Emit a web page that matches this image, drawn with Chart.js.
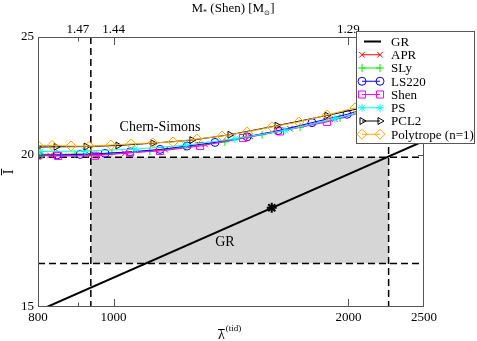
<!DOCTYPE html>
<html>
<head>
<meta charset="utf-8">
<script src="https://cdn.jsdelivr.net/npm/chart.js@4.4.1/dist/chart.umd.min.js"></script>
<style>
  html, body { margin: 0; padding: 0; background: #fff; }
  canvas { display: block; }
</style>
</head>
<body>
<canvas id="chart" width="477" height="341"></canvas>
<script>
const serif = 'Liberation Serif, serif';

// axis ticks
const xTickValues = [800, 1000, 2000, 2500];
const xTickLabels = ['800', '1000', '2000', '2500'];
const xMajorMarks = [1000, 2000];
const xMinorMarks = [900];
const yTickValues = [15, 20, 25];
const yTickLabels = ['15', '20', '25'];
const topTickValues = [900, 1000, 2000];
const topTickLabels = ['1.47', '1.44', '1.29'];

// GR relation and measured point
const grLam = [800, 2500];
const grI = [14.89, 20.54];
const starLam = [1595];
const starI = [18.1];

// allowed region
const bandLam = [935, 2252];
const bandI = [16.29, 19.91];

// Chern-Simons curves per EOS
const aprLam = [800, 829, 933, 1034, 1164, 1310, 1496, 1683, 1922, 2200];
const aprI = [19.97, 19.98, 20.0, 20.06, 20.2, 20.4, 20.72, 21.02, 21.4, 21.9];
const slyLam = [800, 810, 892, 995, 1113, 1235, 1389, 1550, 1734, 1951, 2200];
const slyI = [20.02, 20.02, 20.03, 20.07, 20.15, 20.3, 20.5, 20.78, 21.08, 21.45, 21.9];
const ls220Lam = [800, 846, 906, 975, 1050, 1147, 1242, 1349, 1483, 1625, 1796, 1992, 2250];
const ls220I = [20.0, 20.0, 20.02, 20.06, 20.12, 20.21, 20.34, 20.48, 20.7, 20.94, 21.26, 21.6, 22.1];
const shenLam = [800, 849, 947, 1050, 1147, 1291, 1465, 1634, 1877, 2200];
const shenI = [19.98, 19.96, 19.97, 20.09, 20.15, 20.34, 20.65, 20.91, 21.29, 21.9];
const psLam = [800, 805, 919, 1065, 1235, 1431, 1659, 1922, 2200];
const psI = [20.12, 20.13, 20.15, 20.22, 20.37, 20.62, 20.95, 21.42, 21.9];
const pcl2Lam = [800, 844, 922, 1013, 1123, 1260, 1410, 1620, 1877, 2182];
const pcl2I = [20.3, 20.31, 20.32, 20.36, 20.45, 20.57, 20.78, 21.14, 21.55, 22.0];
const polyLam = [800, 834, 882, 930, 992, 1053, 1123, 1192, 1279, 1377, 1483, 1596, 1728, 1877, 2039, 2250];
const polyI = [20.36, 20.36, 20.34, 20.33, 20.38, 20.42, 20.46, 20.5, 20.61, 20.73, 20.89, 21.09, 21.29, 21.57, 21.86, 22.3];

const zip = (xs, ys) => xs.map((v, i) => ({ x: v, y: ys[i] }));

const eos = [
  { label: 'APR', lam: aprLam, I: aprI, color: '#ff0000', style: 'crossRot', r: 4, rot: 0 },
  { label: 'SLy', lam: slyLam, I: slyI, color: '#00ee00', style: 'cross', r: 4, rot: 0 },
  { label: 'LS220', lam: ls220Lam, I: ls220I, color: '#0000ff', style: 'circle', r: 4, rot: 0 },
  { label: 'Shen', lam: shenLam, I: shenI, color: '#ff00ff', style: 'rect', r: 5, rot: 0 },
  { label: 'PS', lam: psLam, I: psI, color: '#00ffff', style: 'star', r: 4, rot: 0 },
  { label: 'PCL2', lam: pcl2Lam, I: pcl2I, color: '#000000', style: 'triangle', r: 4, rot: 90 },
  { label: 'Polytrope (n=1)', lam: polyLam, I: polyI, color: '#ffa500', style: 'rectRot', r: 5, rot: 0 }
];

function drawMarker(ctx, style, x, y, r, rot, color) {
  const h = r * Math.SQRT1_2;
  ctx.save();
  ctx.strokeStyle = color;
  ctx.lineWidth = 1;
  ctx.beginPath();
  if (style === 'circle') {
    ctx.arc(x, y, r, 0, Math.PI * 2);
  } else if (style === 'rect') {
    ctx.rect(x - h, y - h, 2 * h, 2 * h);
  } else if (style === 'rectRot') {
    ctx.moveTo(x, y - r); ctx.lineTo(x + r, y); ctx.lineTo(x, y + r); ctx.lineTo(x - r, y); ctx.closePath();
  } else if (style === 'cross' || style === 'star') {
    ctx.moveTo(x - r, y); ctx.lineTo(x + r, y); ctx.moveTo(x, y - r); ctx.lineTo(x, y + r);
  }
  if (style === 'crossRot' || style === 'star') {
    ctx.moveTo(x - h, y - h); ctx.lineTo(x + h, y + h); ctx.moveTo(x + h, y - h); ctx.lineTo(x - h, y + h);
  }
  if (style === 'triangle') {
    let a = rot * Math.PI / 180;
    ctx.moveTo(x + Math.sin(a) * r, y - Math.cos(a) * r);
    a += 2 * Math.PI / 3;
    ctx.lineTo(x + Math.sin(a) * r, y - Math.cos(a) * r);
    a += 2 * Math.PI / 3;
    ctx.lineTo(x + Math.sin(a) * r, y - Math.cos(a) * r);
    ctx.closePath();
  }
  ctx.stroke();
  ctx.restore();
}

const overlay = {
  id: 'overlay',
  beforeDatasetsDraw(chart) {
    const { ctx, chartArea: a, scales: { x, y } } = chart;
    const x0 = x.getPixelForValue(bandLam[0]), x1 = x.getPixelForValue(bandLam[1]);
    const y0 = y.getPixelForValue(bandI[1]), y1 = y.getPixelForValue(bandI[0]);
    ctx.save();
    ctx.fillStyle = '#d6d6d6';
    ctx.fillRect(x0, y0, x1 - x0, y1 - y0);
    ctx.strokeStyle = '#000';
    ctx.lineWidth = 1.5;
    ctx.setLineDash([7, 4]);
    ctx.beginPath();
    [x0, x1].forEach(px => { ctx.moveTo(px, a.top); ctx.lineTo(px, a.bottom); });
    [y0, y1].forEach(py => { ctx.moveTo(a.left, py); ctx.lineTo(a.right, py); });
    ctx.stroke();
    ctx.restore();
  },
  afterDraw(chart) {
    const { ctx, chartArea: a, scales: { x, y } } = chart;
    ctx.save();
    // frame and inward ticks
    ctx.strokeStyle = '#555';
    ctx.lineWidth = 1;
    ctx.strokeRect(a.left + 0.5, a.top + 0.5, a.right - a.left - 1, a.bottom - a.top - 1);
    ctx.beginPath();
    xMajorMarks.concat(xMinorMarks).forEach(v => {
      const px = Math.round(x.getPixelForValue(v)) + 0.5;
      const len = xMajorMarks.includes(v) ? 8 : 4.5;
      ctx.moveTo(px, a.bottom); ctx.lineTo(px, a.bottom - len);
      ctx.moveTo(px, a.top); ctx.lineTo(px, a.top + len);
    });
    const py20 = Math.round(y.getPixelForValue(20)) + 0.5;
    ctx.moveTo(a.left, py20); ctx.lineTo(a.left + 6, py20);
    ctx.moveTo(a.right, py20); ctx.lineTo(a.right - 6, py20);
    ctx.stroke();

    // text in the plot
    ctx.fillStyle = '#000';
    ctx.font = '14px ' + serif;
    ctx.textAlign = 'center';
    ctx.textBaseline = 'middle';
    ctx.fillText('Chern-Simons', x.getPixelForValue(1147), y.getPixelForValue(21.09));
    ctx.fillText('GR', x.getPixelForValue(1389), y.getPixelForValue(16.96));

    // top title: M_* (Shen) [M_sun]
    ctx.textAlign = 'left';
    ctx.textBaseline = 'alphabetic';
    const parts = [['M', 13, 0], ['*', 8, 3], [' (Shen) [M', 13, 0], ['\u2299', 7, 3], [']', 13, 0]];
    let w = 0;
    parts.forEach(p => { ctx.font = p[1] + 'px ' + serif; w += ctx.measureText(p[0]).width; });
    let cx = 233 - w / 2;
    parts.forEach(p => {
      ctx.font = p[1] + 'px ' + serif;
      ctx.fillText(p[0], cx, 12 + p[2]);
      cx += ctx.measureText(p[0]).width;
    });

    // x title: lambda bar (tid)
    ctx.font = '14px ' + serif;
    const lw = ctx.measureText('\u03bb').width;
    ctx.fillText('\u03bb', 218, 339);
    ctx.beginPath();
    ctx.strokeStyle = '#000';
    ctx.moveTo(218, 329.5); ctx.lineTo(218 + lw, 329.5);
    ctx.stroke();
    ctx.font = '9px ' + serif;
    ctx.fillText('(tid)', 219 + lw, 331);

    // y title: I bar
    ctx.save();
    ctx.translate(9, 172);
    ctx.rotate(-Math.PI / 2);
    ctx.font = '14px ' + serif;
    ctx.textAlign = 'center';
    ctx.fillText('I', 0, 4);
    const iw = ctx.measureText('I').width;
    ctx.beginPath();
    ctx.moveTo(-iw / 2 - 1, -7.5); ctx.lineTo(iw / 2 + 1, -7.5);
    ctx.stroke();
    ctx.restore();

    // legend box
    const lx = 356, ly = 31, lwid = 119, lh = 113;
    ctx.fillStyle = '#fff';
    ctx.fillRect(lx, ly, lwid, lh);
    ctx.strokeStyle = '#555';
    ctx.strokeRect(lx + 0.5, ly + 0.5, lwid - 1, lh - 1);
    ctx.font = '13px ' + serif;
    ctx.textAlign = 'left';
    ctx.textBaseline = 'middle';
    const rows = [{ label: 'GR', color: '#000', style: null }].concat(eos);
    rows.forEach((e, i) => {
      const ry = 41.5 + i * 13.25;
      ctx.beginPath();
      if (e.style === null) {
        ctx.strokeStyle = '#000';
        ctx.lineWidth = 2;
        ctx.moveTo(364, ry); ctx.lineTo(381, ry);
      } else {
        ctx.strokeStyle = e.color;
        ctx.lineWidth = 1;
        ctx.moveTo(362, ry); ctx.lineTo(380, ry);
      }
      ctx.stroke();
      if (e.style) {
        drawMarker(ctx, e.style, 362, ry, e.r, e.rot, e.color);
        drawMarker(ctx, e.style, 380, ry, e.r, e.rot, e.color);
      }
      ctx.fillStyle = '#000';
      ctx.fillText(e.label, 391, ry + 1);
    });
    ctx.restore();
  }
};

const datasets = [
  { label: 'GR', data: zip(grLam, grI), showLine: true, borderColor: '#000', borderWidth: 2, pointRadius: 0 },
  { label: 'GR point', data: zip(starLam, starI), showLine: false, pointStyle: 'star', pointRadius: 5,
    pointBorderWidth: 2, pointBorderColor: '#000', borderColor: '#000' }
].concat(eos.slice().reverse().map(e => ({
  label: e.label,
  data: zip(e.lam, e.I),
  showLine: true,
  borderColor: e.color,
  borderWidth: 1,
  pointStyle: e.style,
  pointRadius: e.r,
  pointRotation: e.rot,
  pointBorderColor: e.color,
  pointBorderWidth: 1,
  pointBackgroundColor: 'rgba(0,0,0,0)'
})));

const tickFont = { family: serif, size: 13 };

new Chart(document.getElementById('chart'), {
  type: 'scatter',
  data: { datasets },
  options: {
    responsive: false,
    animation: false,
    layout: { padding: { right: 53 } },
    plugins: { legend: { display: false }, tooltip: { enabled: false } },
    scales: {
      x: {
        type: 'logarithmic', position: 'bottom', min: 800, max: 2500,
        afterBuildTicks: s => { s.ticks = xTickValues.map(v => ({ value: v })); },
        afterFit: s => { s.height = 34; },
        grid: { display: false, drawTicks: false }, border: { display: false },
        ticks: { autoSkip: false, maxRotation: 0, padding: 3, color: '#000', font: tickFont,
          callback: v => xTickLabels[xTickValues.indexOf(v)] || '' }
      },
      x2: {
        type: 'logarithmic', position: 'top', min: 800, max: 2500,
        afterBuildTicks: s => { s.ticks = topTickValues.map(v => ({ value: v })); },
        afterFit: s => { s.height = 37; },
        grid: { display: false, drawTicks: false }, border: { display: false },
        ticks: { autoSkip: false, maxRotation: 0, padding: 0, color: '#000', font: tickFont,
          callback: v => topTickLabels[topTickValues.indexOf(v)] || '' }
      },
      y: {
        type: 'logarithmic', min: 15, max: 25,
        afterBuildTicks: s => { s.ticks = yTickValues.map(v => ({ value: v })); },
        afterFit: s => { s.width = 38; },
        grid: { display: false, drawTicks: false }, border: { display: false },
        ticks: { autoSkip: false, padding: 4, color: '#000', font: tickFont,
          callback: v => yTickLabels[yTickValues.indexOf(v)] || '' }
      }
    }
  },
  plugins: [overlay]
});
</script>
</body>
</html>
